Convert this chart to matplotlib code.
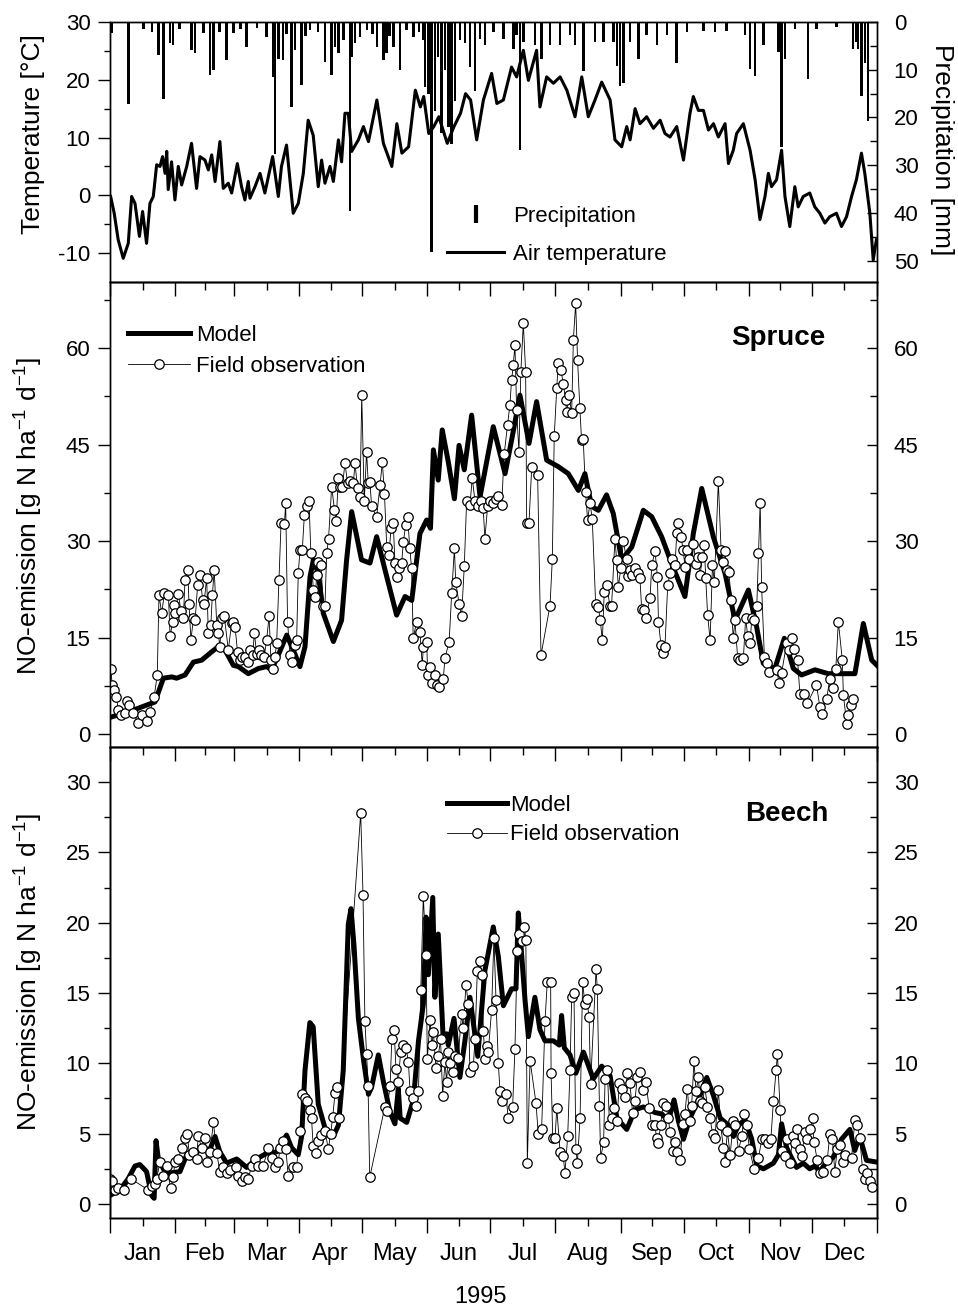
import numpy as np
import matplotlib.pyplot as plt
from matplotlib.lines import Line2D

plt.rcParams.update({
    "font.family": "Liberation Sans",
    "mathtext.fontset": "custom",
    "mathtext.rm": "Liberation Sans",
    "axes.unicode_minus": False,
    "axes.linewidth": 1.0,
})

months = ["Jan", "Feb", "Mar", "Apr", "May", "Jun",
          "Jul", "Aug", "Sep", "Oct", "Nov", "Dec"]
month_edges = [0, 31, 59, 90, 120, 151, 181, 212, 243, 273, 304, 334, 365]

# air temperature (day of year, deg C)
temp = [(0.3, -0.2), (2, -3.1), (3.9, -7.7), (6.3, -10.9), (8.7, -8.3), (10.3, -0.2), (11.9, -1.4),
        (14, -7.1), (15.5, -2.8), (17.4, -8.3), (19, -1.4), (20.6, -0.2), (22.2, 5.3), (23.8, 5.0),
        (25, 6.7), (26.2, 3.8), (27, 7.6), (27.7, 1.0), (29.3, 5.8), (30.9, -0.8), (32.5, 5.0),
        (34.1, 1.8), (36.5, 5.0), (38.8, 9.0), (41.2, 1.2), (42.8, 6.7), (45.2, 6.1), (46.8, 4.4),
        (48.4, 7.0), (50, 2.4), (52.3, 9.3), (53.9, 1.2), (56.3, 2.1), (57.9, 0.4), (60.6, 5.5),
        (62.6, 1.5), (64.2, -0.8), (65.8, 2.4), (66.6, -0.5), (69, 1.5), (71.4, 3.8), (73.7, 0.4),
        (77.4, 6.7), (80.1, -0.2), (81.6, 5.0), (84, 8.7), (87.2, -3.1), (89.6, -1.4), (92, 3.8),
        (94.3, 13.0), (96.7, 10.4), (99.1, 1.5), (100.7, 6.1), (102.3, 2.1), (104.7, 5.0), (106.3, 2.4),
        (108.7, 9.6), (110.2, 5.8), (111.8, 14.2), (113.4, 14.2), (115, 7.6), (118.2, 9.6), (120.6, 11.9),
        (123, 9.3), (127, 16.5), (130.1, 9.0), (134.1, 5.0), (136.5, 12.4), (138.9, 7.3), (142.1, 8.4),
        (145.3, 18.2), (147.7, 15.3), (149.3, 17.1), (151.7, 10.7), (154.1, 11.9), (156.5, 13.6),
        (160.5, 9.0), (163.7, 11.9), (166.8, 14.2), (169.2, 17.6), (171.6, 16.5), (174.5, 9.6),
        (177.7, 16.5), (181.6, 21.1), (184.1, 15.9), (187.2, 16.5), (191.1, 22.2), (193.5, 20.5),
        (196.7, 25.1), (199.1, 19.9), (203, 25.1), (204.6, 15.3), (207.8, 20.5), (211, 19.4),
        (214.2, 20.5), (217.4, 18.2), (221.3, 13.6), (224.5, 20.5), (227.6, 13.6), (230.8, 16.5),
        (234, 19.6), (238, 16.5), (240.3, 9.6), (243.5, 8.4), (245.9, 11.9), (247.5, 9.6), (249.9, 15.0),
        (252.2, 12.4), (255.4, 13.6), (258.6, 11.6), (261.8, 13.0), (264.1, 10.7), (266.5, 10.1),
        (269.7, 11.9), (272.9, 6.1), (276, 14.2), (277.6, 17.1), (280, 14.7), (282.4, 14.7),
        (284.8, 11.3), (287.2, 12.4), (289.5, 10.1), (292.7, 12.4), (294.3, 5.5), (296.6, 7.8),
        (298.2, 10.7), (301.4, 12.4), (304.6, 7.8), (307, 2.7), (309.3, -4.2), (311.7, -0.2),
        (313.3, 3.8), (314.8, 1.5), (317.2, 2.7), (319.6, 7.8), (321.2, -0.2), (323.5, -5.4),
        (325.9, 1.5), (327.5, -2.0), (329.9, -0.2), (333, 0.4), (335.4, -2.0), (337.8, -3.1),
        (340.2, -4.8), (342.5, -3.7), (345.7, -3.1), (348.1, -5.4), (350.5, -3.7), (352.9, -0.2),
        (355.2, 2.7), (357.6, 7.3), (359.2, 3.8), (361.6, -3.1), (363.2, -11.2), (364.7, -7.7)]

# precipitation (day of year, mm)
precip = [(0.9, 2.4), (8.9, 17.2), (16, 1.5), (20, 2.0), (23, 7.0), (25.4, 16.1), (28.5, 4.5), (30, 4.9),
          (33, 1.5), (38.8, 5.9), (40.4, 6.6), (44.4, 2.4), (47.6, 11.2), (49.2, 10.1), (52, 2.0),
          (55.5, 8.0), (58.7, 2.4), (62, 1.5), (65, 5.2), (70, 1.2), (74.5, 3.1), (77.7, 11.5),
          (78.5, 27.7), (80.1, 7.7), (82.4, 8.0), (84, 2.5), (86.4, 17.9), (88, 5.9), (91.2, 13.3),
          (93, 3.0), (95.1, 1.7), (99, 2.0), (102.3, 8.4), (105.5, 11.2), (107, 5.2), (108.7, 6.6),
          (111, 3.8), (114.2, 39.7), (115, 7.3), (116.6, 4.5), (119, 3.1), (122.2, 1.7), (125, 2.5),
          (127, 5.2), (130.1, 8.0), (131.7, 6.6), (133, 3.0), (134.9, 5.2), (138.1, 10.1), (141.2, 1.7),
          (144.4, 3.1), (147, 2.0), (149.1, 3.8), (149.9, 13.7), (151.5, 15.1), (153, 48.2),
          (154.6, 18.6), (156.2, 7.3), (157.8, 23.2), (159.4, 10.1), (161, 22.1), (162.6, 25.6),
          (164.2, 16.5), (166.5, 3.8), (168.9, 4.5), (171.3, 9.4), (173.7, 14.4), (176.1, 3.5),
          (178.4, 4.9), (182.4, 2.1), (187.2, 3.5), (191.9, 5.6), (193.5, 2.8), (195.1, 26.8),
          (196.7, 4.2), (202.2, 4.9), (205.4, 7.7), (209.4, 4.9), (214.2, 4.9), (218.9, 2.8),
          (221.3, 4.9), (225.3, 10.2), (230.8, 4.2), (234.8, 4.2), (239.6, 4.2), (241.2, 9.2),
          (242.7, 13.4), (244.3, 12.7), (247.5, 4.2), (251.4, 7.7), (255.4, 2.8), (260.2, 4.9),
          (265, 2.8), (269.7, 8.5), (274.5, 2.1), (282.4, 1.8), (288, 2.1), (293.5, 1.8), (302.2, 2.8),
          (304.6, 9.9), (307, 11.3), (311, 4.9), (318.1, 6.3), (319.6, 26.1), (321.2, 7.7),
          (325.9, 1.4), (332.2, 12.0), (336.2, 1.4), (345.7, 1.1), (353.6, 5.6), (355.2, 4.2),
          (356, 5.6), (357.6, 15.5), (359.2, 8.5), (360.8, 20.8)]

# spruce NO emission, model
spruce_model = [(1, 2.7), (10, 3.6), (21.4, 5.0), (25.4, 8.7), (29.4, 8.9), (31.7, 8.7), (35.7, 9.2),
                (39.7, 11.2), (43.6, 11.5), (48.4, 12.8), (51.5, 13.6), (54.7, 13.1), (58.7, 10.7),
                (61.1, 10.5), (65.8, 9.4), (70.6, 10.2), (74.5, 10.5), (76.9, 10.0), (80.1, 12.3),
                (84.1, 15.4), (87.2, 13.1), (90.4, 10.5), (92.8, 13.6), (95.2, 24.5), (96.8, 27.1),
                (99.1, 25.0), (101.5, 18.8), (106.3, 14.4), (110.2, 17.7), (112.6, 27.1), (115, 34.6),
                (119.7, 27.1), (123.7, 26.6), (126.9, 30.7), (130.9, 25.5), (136.4, 18.5), (140.4, 21.4),
                (143.6, 20.8), (147.5, 31.2), (150.7, 33.3), (152.5, 32.0), (153.9, 44.2), (156.2, 39.5),
                (158.1, 47.3), (161, 42.3), (163.9, 36.6), (166.1, 44.9), (168.6, 41.1), (172.1, 49.6),
                (176.1, 36.9), (182.4, 47.8), (188, 40.5), (191.1, 45.7), (195.1, 52.7), (199.4, 45.2),
                (203, 51.7), (207.8, 42.6), (213.3, 41.6), (218.1, 40.5), (222.9, 37.9), (226, 40.5),
                (229.2, 35.4), (232.4, 34.8), (236.3, 37.2), (239.5, 34.3), (243.5, 27.1), (248.3, 29.1),
                (253.8, 34.8), (257.8, 33.8), (262.5, 30.7), (267.3, 26.5), (273.6, 21.4), (277.6, 31.2),
                (281.6, 38.2), (287.1, 30.7), (292.7, 25.0), (297.4, 17.7), (303.8, 22.4), (307.7, 16.7),
                (310.9, 11.0), (316.4, 10.2), (320.9, 14.9), (325.2, 10.2), (329.1, 9.2), (335.5, 10.0),
                (341.8, 9.4), (354.5, 9.4), (358.5, 17.2), (362.5, 11.5), (365, 10.7)]

# spruce NO emission, field observation
spruce_obs = [(0.5, 10.1), (1, 7.6), (2, 6.9), (3, 5.8), (4, 3.8), (5, 3.0), (7, 3.3), (8, 5.1), (9, 4.6),
              (11, 3.3), (13.5, 1.7), (15, 3.0), (17.5, 2.0), (19, 3.5), (21, 5.8), (22.5, 9.2),
              (23.3, 21.6), (24.6, 18.8), (25.9, 21.9), (27.8, 21.6), (28.6, 15.2), (29.8, 17.5),
              (30.6, 20.1), (31, 18.8), (32.5, 21.8), (33.8, 19.1), (34.9, 18.0), (35.7, 24.0), (37, 25.5),
              (37.6, 20.3), (38.5, 14.6), (39.7, 18.0), (40.5, 17.7), (41.7, 23.2), (42.8, 24.8),
              (44.1, 20.8), (44.7, 20.3), (46, 24.2), (46.8, 15.7), (48, 17.0), (48.7, 21.6), (49.6, 25.5),
              (50.8, 17.0), (51.5, 15.7), (52.3, 13.6), (53.1, 18.0), (54.4, 18.3), (56.3, 13.1),
              (57.9, 17.3), (58.7, 17.5), (59.5, 16.7), (60.7, 12.8), (61.9, 11.5), (62.7, 12.0),
              (64.2, 12.0), (65.5, 11.2), (66.6, 13.1), (67.9, 12.3), (68.7, 15.7), (69.8, 12.5),
              (70.9, 13.1), (71.9, 12.3), (73.4, 12.0), (74.5, 14.6), (75.7, 18.3), (76.6, 11.5),
              (77.7, 10.2), (78.5, 12.0), (79.3, 14.1), (80.4, 24.0), (81.4, 32.8), (83, 32.6), (83.6, 36.0),
              (84.5, 17.5), (85.6, 12.3), (86.4, 11.2), (88, 13.8), (88.8, 14.6), (89.6, 25.0), (90.4, 28.6),
              (91.5, 28.6), (92.5, 34.1), (93.6, 35.4), (94.7, 36.2), (95.6, 28.1), (96.8, 22.4),
              (97.6, 21.3), (98.4, 24.7), (99.1, 26.8), (100.4, 26.3), (101.5, 20.0), (102.3, 20.0),
              (103.1, 28.1), (104, 30.4), (105.5, 38.5), (106.8, 34.9), (107.6, 33.1), (108.7, 39.8),
              (109.4, 38.5), (110.6, 38.5), (111.8, 42.1), (113.1, 39.0), (114.2, 39.3), (115.8, 39.0),
              (116.6, 42.1), (117.8, 38.2), (119, 36.9), (119.8, 52.7), (121, 36.2), (122.1, 43.9),
              (122.9, 39.0), (123.7, 39.2), (124.5, 35.4), (126.9, 33.8), (128.5, 38.7), (129.6, 42.3),
              (130.6, 37.4), (131.7, 29.1), (132.8, 27.9), (133.7, 32.0), (134.8, 32.8), (135.6, 26.6),
              (136.4, 24.5), (137.5, 25.8), (138.8, 26.6), (139.6, 29.9), (140.7, 32.5), (141.6, 33.7),
              (142.7, 28.9), (143.5, 25.8), (144.3, 14.9), (145.9, 17.5), (147.5, 15.9), (148.6, 10.7),
              (149.1, 13.6), (150.7, 14.4), (151.2, 9.2), (152.3, 10.5), (153.1, 7.9), (154.7, 9.2),
              (155.5, 7.6), (156.6, 7.4), (158.6, 8.6), (159.4, 11.8), (161.4, 14.4), (162.6, 21.9),
              (163.9, 28.9), (164.5, 23.7), (166.1, 20.3), (167.3, 18.3), (168.6, 26.1), (169.7, 36.2),
              (171.3, 35.7), (172.4, 39.8), (173.7, 36.2), (174.9, 35.4), (176.5, 36.2), (177.6, 35.1),
              (178.4, 30.4), (179.7, 35.4), (180.8, 36.2), (182.4, 36.0), (183.5, 36.5), (184.8, 37.0),
              (186.4, 35.7), (187.6, 43.6), (189.2, 48.1), (190.3, 51.2), (191.1, 55.0), (191.9, 57.4),
              (192.7, 60.5), (193.5, 50.4), (194.6, 43.9), (195.5, 56.3), (196.7, 63.9), (197.8, 56.3),
              (198.3, 32.8), (199.4, 32.9), (200.7, 41.6), (203.5, 40.3), (205.1, 12.3), (209.4, 20.0),
              (210.5, 27.3), (211.4, 46.3), (212.6, 53.8), (213.3, 57.7), (214.6, 56.6), (215.7, 54.5),
              (216.8, 52.0), (217.3, 50.1), (218.4, 52.7), (219.7, 49.9), (220.5, 61.3), (221.6, 67.0),
              (222.5, 58.2), (223.6, 50.7), (224.4, 45.7), (225.2, 45.9), (226.3, 37.6), (227.3, 33.3),
              (228.4, 35.9), (229.5, 33.5), (231.1, 20.3), (232.4, 19.8), (233.3, 17.7), (234.3, 14.6),
              (235.2, 22.1), (236.3, 23.2), (237.9, 20.0), (238.7, 20.0), (240.3, 30.4), (241.1, 27.0),
              (241.9, 22.9), (243.1, 25.8), (244.3, 30.0), (245.8, 27.2), (246.6, 24.6), (247.5, 25.5),
              (248.2, 24.8), (249.8, 25.8), (251.4, 25.0), (252.2, 24.2), (253, 19.5), (254.3, 19.3),
              (254.9, 18.1), (257, 21.1), (257.8, 26.3), (259.4, 28.4), (260.5, 24.5), (261, 17.5),
              (262.2, 13.8), (263.3, 12.6), (264.1, 13.6), (265.4, 23.2), (266.5, 25.0), (267.3, 27.3),
              (268.9, 26.3), (269.7, 31.2), (270.5, 32.8), (271.7, 30.7), (272.8, 28.6), (273.6, 26.0),
              (274.4, 28.6), (275.5, 27.3), (277.6, 29.6), (278.9, 26.5), (279.6, 27.6), (280.8, 24.7),
              (281.9, 27.6), (282.8, 29.4), (283.5, 24.2), (284.4, 18.5), (285.6, 14.6), (286.7, 26.3),
              (287.6, 23.7), (289.5, 39.3), (290.8, 28.6), (291.9, 26.8), (292.7, 28.4), (293.4, 25.5),
              (294.6, 25.2), (295.5, 20.8), (296.6, 14.9), (297.4, 17.7), (298.7, 11.8), (299.8, 11.5),
              (301.4, 11.8), (302.5, 18.0), (303.5, 15.2), (304.6, 14.1), (305.4, 18.0), (306.7, 17.7),
              (307.8, 20.0), (308.6, 28.1), (309.4, 36.0), (310.1, 22.9), (311.4, 12.0), (312.5, 11.0),
              (313.6, 9.7), (317.3, 10.0), (318.4, 7.9), (319.6, 9.5), (322, 14.1), (323.3, 13.1),
              (324.4, 14.9), (325.6, 13.3), (327.2, 11.5), (328.3, 6.3), (330.4, 6.3), (331.9, 4.8),
              (336.2, 7.7), (337.8, 4.2), (338.6, 3.2), (341, 5.5), (342.6, 8.6), (344.2, 7.1),
              (345.4, 10.1), (346.6, 17.5), (348.5, 11.5), (349, 6.1), (350.6, 1.6), (351.4, 3.0),
              (352.6, 4.5), (353.7, 5.5)]

# beech NO emission, model
beech_model = [(0, 0.6), (4.7, 1.0), (8.7, 1.8), (11.9, 2.7), (14.2, 2.8), (17.4, 2.3), (19.8, 0.6),
               (21, 0.4), (21.9, 4.5), (23, 3.2), (25.4, 2.5), (28.5, 2.2), (33.3, 2.3), (36.5, 3.5),
               (39.6, 3.4), (42.8, 3.9), (47.6, 3.9), (50, 4.8), (52.3, 3.7), (55.5, 2.9), (60.3, 3.2),
               (65, 2.6), (69.8, 3.2), (74.5, 3.6), (79.3, 3.7), (84, 4.9), (86.4, 4.0), (89.6, 3.5),
               (91.2, 4.8), (92.8, 9.5), (95.1, 12.9), (96.7, 12.6), (99.1, 7.1), (102.3, 5.4), (106.3, 4.8),
               (108.7, 5.6), (111, 9.5), (113.4, 19.9), (114.7, 21.0), (116.1, 18.4), (118.2, 13.2),
               (120.6, 10.3), (123, 7.8), (124.5, 8.3), (127.7, 10.6), (130.1, 8.7), (133.3, 6.5),
               (135.6, 5.7), (137.2, 8.2), (138.1, 6.1), (141.2, 5.8), (144.4, 7.4), (146.8, 11.6),
               (149.1, 14.2), (150.4, 20.4), (151.5, 16.3), (153.6, 21.8), (154.6, 14.7), (156.2, 19.2),
               (158.6, 11.6), (160.2, 12.1), (161, 11.3), (163.7, 13.2), (166.5, 9.0), (168.9, 11.6),
               (171.3, 14.7), (175, 10.5), (178.4, 16.6), (182.4, 19.7), (184.8, 17.6), (187.2, 14.1),
               (191.1, 15.3), (193.2, 15.3), (194.3, 20.7), (195.4, 18.7), (197.5, 14.5), (199.1, 11.9),
               (202.2, 14.7), (204.6, 12.4), (207, 11.6), (211, 11.6), (213.8, 11.3), (214.9, 13.4),
               (216.2, 11.1), (218.9, 10.6), (221.7, 9.3), (225.3, 10.8), (230, 8.9), (234, 9.8),
               (238, 9.1), (241.2, 6.1), (245.9, 5.3), (249.9, 6.7), (253.8, 6.9), (259.4, 6.5),
               (262.6, 6.4), (265.7, 5.9), (268.4, 7.4), (270.5, 5.9), (272.9, 4.6), (276, 6.1),
               (280, 7.4), (284, 9.0), (287.2, 7.7), (290.4, 6.1), (294.3, 5.6), (296.7, 4.8), (299.1, 5.6),
               (302.2, 6.0), (305.4, 4.6), (307.8, 2.7), (311, 2.5), (315.7, 2.9), (318.1, 3.5),
               (319.6, 5.7), (322, 4.0), (323.6, 3.5), (326.7, 2.6), (329.9, 2.9), (333, 2.5), (335.4, 2.7),
               (337.8, 2.3), (341, 3.0), (344.1, 3.3), (348.1, 4.6), (352.1, 5.3), (354.4, 3.8),
               (356.8, 4.8), (360, 3.1), (364, 3.0)]

# beech NO emission, field observation
beech_obs = [(0, 1.8), (1, 1.6), (2.4, 1.0), (4, 1.1), (6.7, 1.0), (9.8, 1.8), (18.2, 1.0), (19.8, 1.3),
             (21.4, 1.4), (22.2, 1.8), (23.8, 3.0), (25.4, 2.0), (26.9, 2.7), (28.9, 1.1), (30.1, 1.9),
             (30.9, 3.0), (32.5, 3.2), (34.1, 4.0), (35.7, 4.7), (36.8, 5.0), (37.7, 3.5), (39.6, 3.7),
             (41.2, 3.2), (42, 4.8), (43.6, 4.0), (45.2, 4.7), (46, 3.0), (47.6, 3.7), (49.2, 5.8),
             (50.8, 3.6), (52.3, 2.3), (53.9, 2.6), (55.5, 2.2), (57.1, 2.4), (59.9, 2.6), (61.1, 2.0),
             (62.6, 1.6), (64.2, 1.9), (65.8, 1.8), (67.4, 2.7), (69, 3.2), (70.6, 2.7), (72.9, 2.7),
             (75.3, 4.0), (76.9, 3.3), (78.5, 2.6), (80.1, 3.0), (80.9, 4.0), (82.4, 4.5), (83.7, 3.9),
             (84.8, 2.0), (87.2, 2.6), (88.8, 2.6), (90.4, 5.2), (91.6, 7.8), (92.8, 7.5), (93.9, 7.3),
             (95.1, 6.7), (95.9, 6.1), (96.7, 4.1), (98, 3.6), (99.1, 4.5), (100.2, 4.9), (102.3, 5.2),
             (103.9, 3.9), (105, 5.0), (106, 6.2), (107.1, 7.9), (108.2, 8.3), (109.2, 6.1), (119.3, 27.8),
             (120.4, 22.0), (121.3, 13.0), (122.1, 10.7), (122.8, 8.4), (123.6, 1.9), (130.8, 6.9),
             (131.7, 6.6), (133.3, 8.4), (134.1, 11.7), (135.2, 12.4), (136.1, 9.6), (137.2, 8.7),
             (138.3, 10.8), (139.6, 11.3), (140.9, 11.1), (142, 10.1), (142.8, 8.0), (144.4, 7.5),
             (145.7, 7.0), (146.8, 8.0), (147.9, 15.2), (149.1, 21.9), (150.4, 17.7), (151, 10.3),
             (152.3, 13.1), (153.1, 11.3), (153.9, 12.2), (155.1, 9.7), (156.2, 10.5), (157.3, 11.7),
             (158.3, 7.7), (159.4, 10.1), (160.2, 8.7), (161, 10.8), (161.8, 10.0), (163, 9.4),
             (164.2, 10.5), (165.7, 10.4), (167.3, 13.5), (168.1, 12.5), (169.4, 15.6), (170.5, 14.2),
             (171.3, 9.4), (172.9, 9.8), (173.7, 11.7), (174.8, 16.6), (176.1, 17.3), (176.9, 16.3),
             (177.7, 12.3), (178.4, 10.3), (179.2, 11.2), (180, 10.8), (181.6, 13.8), (182.7, 18.9),
             (183.7, 14.5), (184.8, 10.0), (185.6, 8.0), (186.7, 7.3), (188.4, 7.8), (189.5, 6.1),
             (191.6, 6.9), (192.7, 11.0), (193.8, 18.0), (194.8, 19.2), (195.9, 18.7), (197.2, 19.7),
             (197.9, 18.8), (198.6, 2.9), (199.9, 10.2), (202.7, 7.2), (203.8, 5.0), (205.4, 5.3),
             (207, 13.0), (208.1, 15.8), (209.7, 15.8), (209.9, 9.3), (210.7, 4.7), (211.8, 4.7),
             (212.6, 6.8), (214.2, 3.7), (215.7, 3.4), (216.5, 2.2), (217.8, 4.8), (218.9, 9.5),
             (219.7, 14.7), (220.8, 15.0), (221.7, 3.9), (222.4, 2.9), (223.7, 6.1), (224.9, 15.8),
             (226, 14.2), (226.8, 14.6), (228, 13.3), (228.7, 8.5), (231.3, 16.7), (231.9, 15.3),
             (232.9, 7.0), (233.5, 3.3), (234.9, 4.4), (235.6, 8.9), (236.7, 9.5), (237.7, 5.6),
             (238.8, 6.1), (239.9, 6.8), (241.2, 5.9), (242.4, 8.6), (243.5, 8.2), (245.1, 7.6),
             (246.2, 9.3), (247.4, 8.6), (248.7, 6.5), (249.8, 7.3), (250.9, 9.0), (252.2, 9.4),
             (253.8, 8.1), (255, 8.7), (256.6, 6.8), (257.7, 5.6), (259.3, 5.6), (260.1, 4.7),
             (260.9, 4.3), (262, 5.6), (263.3, 7.2), (264.5, 7.0), (265.7, 6.1), (266.5, 5.1),
             (267.7, 3.8), (268.8, 4.4), (269.6, 3.7), (271.2, 3.1), (272.8, 5.7), (273.6, 6.4),
             (274.7, 8.2), (276, 5.9), (276.8, 7.0), (277.9, 10.2), (278.9, 8.0), (280, 9.0), (280.8, 7.3),
             (281.9, 7.2), (283.1, 8.3), (284.3, 6.9), (285.5, 6.1), (286.8, 5.0), (287.9, 4.7),
             (289.5, 8.1), (290.6, 5.6), (291.9, 4.0), (292.7, 3.0), (293.8, 5.2), (295.1, 3.5),
             (296.7, 5.9), (297.6, 5.6), (299.1, 3.8), (300.6, 4.8), (301.8, 6.4), (303, 5.6), (304.3, 3.9),
             (306.5, 2.5), (308.6, 3.3), (310.2, 4.6), (311.8, 4.6), (312.9, 4.3), (314.5, 4.6),
             (315.7, 7.3), (317, 9.5), (317.6, 10.7), (318.9, 6.7), (319.6, 3.8), (321.2, 3.4), (322, 4.6),
             (323.6, 2.9), (324.8, 4.8), (325.9, 4.3), (327.1, 5.3), (328.3, 3.9), (329.1, 3.4),
             (330.7, 5.1), (331.8, 4.6), (333.1, 5.3), (334.4, 6.1), (335, 4.4), (336.6, 3.1), (337.8, 2.2),
             (339.4, 2.3), (341.3, 3.1), (342.6, 5.0), (343.8, 4.6), (344.9, 2.3), (346.1, 3.9),
             (347.6, 4.2), (348.6, 3.0), (349.7, 3.5), (352.9, 3.3), (354.5, 6.0), (355.6, 5.6),
             (356.8, 4.7), (358.1, 2.5), (359.2, 1.8), (360.3, 2.2), (361.6, 1.6), (362.8, 1.2)]

temp = np.array(temp)
precip = np.array(precip)
spruce_model = np.array(spruce_model)
spruce_obs = np.array(spruce_obs)
beech_model = np.array(beech_model)
beech_obs = np.array(beech_obs)

month_mid = [(a + b) / 2 for a, b in zip(month_edges[:-1], month_edges[1:])]

fig = plt.figure(figsize=(9.58, 13.07), dpi=100)
W_PX, H_PX = 958, 1307


def box(top, bottom, left=110, right=877):
    return [left / W_PX, 1 - bottom / H_PX, (right - left) / W_PX, (bottom - top) / H_PX]


ax_t = fig.add_axes(box(22, 282))
ax_s = fig.add_axes(box(282, 747))
ax_b = fig.add_axes(box(747, 1218))

TL = 16  # tick label size


def left_ticks(ax):
    ax.tick_params(axis="y", which="major", direction="out", length=9, width=1, labelsize=TL, pad=5)
    ax.tick_params(axis="y", which="minor", direction="out", length=4.5, width=1)


def right_ticks(ax):
    ax.tick_params(axis="y", which="major", direction="in", length=7, width=1, labelsize=TL, pad=12)
    ax.tick_params(axis="y", which="minor", direction="in", length=5, width=1)


# ---- top panel: temperature + precipitation
ax_p = ax_t.twinx()
ax_p.bar(precip[:, 0], precip[:, 1], width=1.2, color="k", linewidth=0)
ax_p.set_ylim(54.5, 0)
ax_p.set_yticks([0, 10, 20, 30, 40, 50])
ax_p.set_yticks([5, 15, 25, 35, 45], minor=True)
right_ticks(ax_p)

ax_t.plot(temp[:, 0], temp[:, 1], color="k", lw=2.2)
ax_t.set_zorder(ax_p.get_zorder() + 1)
ax_t.patch.set_visible(False)
ax_t.set_xlim(0, 365)
ax_t.set_ylim(-15, 30)
ax_t.set_yticks([-10, 0, 10, 20, 30])
ax_t.set_yticks([-5, 5, 15, 25], minor=True)
ax_t.set_xticks([])
left_ticks(ax_t)

h_prec = Line2D([], [], color="k", marker="|", ls="none", ms=13, mew=3)
h_temp = Line2D([], [], color="k", lw=2.2)
ax_t.legend([h_prec, h_temp], ["Precipitation", "Air temperature"], loc="center left",
            bbox_to_anchor=(0.439, 0.18), frameon=False, fontsize=16, handlelength=2.6,
            handletextpad=0.4, labelspacing=0.75, borderpad=0, borderaxespad=0)

# ---- middle panel: spruce
obs_style = dict(color="k", lw=0.6, marker="o", ms=6.8, mfc="white", mec="k", mew=0.9)
ax_s.plot(spruce_model[:, 0], spruce_model[:, 1], color="k", lw=3.6, zorder=2)
ax_s.plot(spruce_obs[:, 0], spruce_obs[:, 1], zorder=3, **obs_style)
ax_s.set_xlim(0, 365)
ax_s.set_ylim(-2, 70.3)
ax_s.set_yticks([0, 15, 30, 45, 60])
ax_s.set_yticks([7.5, 22.5, 37.5, 52.5, 67.5], minor=True)
left_ticks(ax_s)
ax_s.set_xticks(month_edges)
ax_s.set_xticks(month_mid, minor=True)
ax_s.tick_params(axis="x", which="both", bottom=False, top=True, labelbottom=False,
                 labeltop=False, direction="in", width=1)
ax_s.tick_params(axis="x", which="major", length=10)
ax_s.tick_params(axis="x", which="minor", length=6)
ax_sr = ax_s.twinx()
ax_sr.set_ylim(ax_s.get_ylim())
ax_sr.set_yticks([0, 15, 30, 45, 60])
ax_sr.set_yticks([7.5, 22.5, 37.5, 52.5, 67.5], minor=True)
right_ticks(ax_sr)

h_model = Line2D([], [], color="k", lw=3.6)
h_obs = Line2D([], [], **obs_style)
ax_s.legend([h_model, h_obs], ["Model", "Field observation"], loc="center left",
            bbox_to_anchor=(0.0235, 0.852), frameon=False, fontsize=16, handlelength=2.8,
            handletextpad=0.25, labelspacing=0.45, borderpad=0, borderaxespad=0, numpoints=1)
ax_s.text(0.871, 0.880, "Spruce", transform=ax_s.transAxes, ha="center", va="center",
          fontsize=20, fontweight="bold")

# ---- bottom panel: beech
ax_b.plot(beech_model[:, 0], beech_model[:, 1], color="k", lw=3.6, zorder=2)
ax_b.plot(beech_obs[:, 0], beech_obs[:, 1], zorder=3, **obs_style)
ax_b.set_xlim(0, 365)
ax_b.set_ylim(-1, 32.5)
ax_b.set_yticks([0, 5, 10, 15, 20, 25, 30])
ax_b.set_yticks([2.5, 7.5, 12.5, 17.5, 22.5, 27.5], minor=True)
left_ticks(ax_b)
ax_b.set_xticks(month_edges)
ax_b.set_xticklabels([])
ax_b.set_xticks(month_mid, minor=True)
ax_b.set_xticklabels(months, minor=True)
ax_b.tick_params(axis="x", which="major", direction="out", length=11, width=1)
ax_b.tick_params(axis="x", which="minor", direction="out", length=6, width=1,
                 labelsize=17, pad=12)
ax_bt = ax_b.twiny()
ax_bt.set_xlim(0, 365)
ax_bt.set_xticks(month_edges)
ax_bt.set_xticks(month_mid, minor=True)
ax_bt.set_xticklabels([])
ax_bt.tick_params(axis="x", which="both", direction="in", width=1, labeltop=False)
ax_bt.tick_params(axis="x", which="major", length=10)
ax_bt.tick_params(axis="x", which="minor", length=6)
ax_br = ax_b.twinx()
ax_br.set_ylim(ax_b.get_ylim())
ax_br.set_yticks([0, 5, 10, 15, 20, 25, 30])
ax_br.set_yticks([2.5, 7.5, 12.5, 17.5, 22.5, 27.5], minor=True)
right_ticks(ax_br)

ax_b.legend([h_model, h_obs], ["Model", "Field observation"], loc="center left",
            bbox_to_anchor=(0.439, 0.845), frameon=False, fontsize=16, handlelength=2.7,
            handletextpad=0.15, labelspacing=0.4, borderpad=0, borderaxespad=0, numpoints=1)
ax_b.text(0.883, 0.858, "Beech", transform=ax_b.transAxes, ha="center", va="center",
          fontsize=20, fontweight="bold")

# ---- axis titles
fig.text(33 / W_PX, 1 - 134 / H_PX, "Temperature [°C]", rotation=90, ha="center", va="center",
         fontsize=19)
fig.text(942 / W_PX, 1 - 150 / H_PX, "Precipitation [mm]", rotation=270, ha="center",
         va="center", fontsize=19)
ylab = r"NO-emission [g N ha$^{\mathrm{-1}}$ d$^{\mathrm{-1}}$]"
fig.text(28 / W_PX, 1 - 516 / H_PX, ylab, rotation=90, ha="center", va="center", fontsize=19)
fig.text(28 / W_PX, 1 - 972 / H_PX, ylab, rotation=90, ha="center", va="center", fontsize=19)
fig.text(480 / W_PX, 1 - 1297 / H_PX, "1995", ha="center", va="center", fontsize=17)

fig.savefig("out.png", dpi=100)
